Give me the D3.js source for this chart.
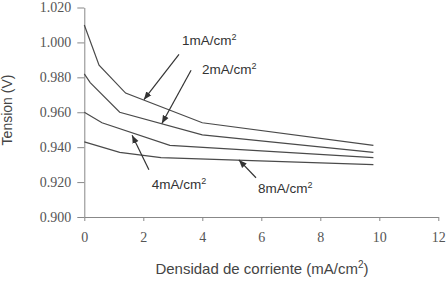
<!DOCTYPE html>
<html>
<head>
<meta charset="utf-8">
<script src="https://cdn.jsdelivr.net/npm/d3@7"></script>
<style>
  body { margin: 0; background: #fff; }
  .line { fill: none; stroke: #4a4a4a; stroke-width: 1.2px; }
  .domain, .tick line { stroke: #888; }
</style>
</head>
<body>
<script>
// Datos de las curvas (densidad de corriente vs tension)
var serie1X = [0, 0.5, 1.4, 4, 9.8];
var serie1Y = [1.010, 0.987, 0.971, 0.954, 0.941];
var serie2X = [0, 0.2, 1.2, 4, 9.8];
var serie2Y = [0.982, 0.977, 0.960, 0.947, 0.937];
var serie3X = [0, 0.6, 2.9, 9.8];
var serie3Y = [0.960, 0.954, 0.941, 0.934];
var serie4X = [0, 1.2, 2.6, 9.8];
var serie4Y = [0.943, 0.937, 0.934, 0.930];

var xTicks = [0, 2, 4, 6, 8, 10, 12];
var yTicks = [0.900, 0.920, 0.940, 0.960, 0.980, 1.000, 1.020];

// etiquetas con flecha: texto, posicion del texto, cola y punta de la flecha
var etiquetas = ["1mA/cm", "2mA/cm", "4mA/cm", "8mA/cm"];
var etiqX = [3.31, 3.99, 2.29, 5.89];
var etiqY = [0.9983, 0.9819, 0.9158, 0.9135];
var colaX = [3.21, 3.62, 2.19, 5.82];
var colaY = [0.9932, 0.9841, 0.9271, 0.9225];
var puntaX = [2.02, 2.63, 1.62, 5.24];
var puntaY = [0.9672, 0.9536, 0.9468, 0.9327];

var W = 447, H = 282;
var margin = {top: 7.5, right: 8.7, bottom: 65, left: 84.3};
var width = W - margin.left - margin.right;
var height = H - margin.top - margin.bottom;

var svg = d3.select("body").append("svg")
            .attr("width", W)
            .attr("height", H);

svg.append("defs").append("marker")
   .attr("id", "flecha")
   .attr("viewBox", "0 0 10 10")
   .attr("refX", 10).attr("refY", 5)
   .attr("markerWidth", 8).attr("markerHeight", 8)
   .attr("markerUnits", "userSpaceOnUse")
   .attr("orient", "auto")
   .append("path")
   .attr("d", "M0,1 L10,5 L0,9 Z")
   .attr("fill", "#333");

var g = svg.append("g")
           .attr("transform", "translate(" + margin.left + "," + margin.top + ")");

var x = d3.scaleLinear().domain([0, 12]).range([0, width]);
var y = d3.scaleLinear().domain([0.900, 1.020]).range([height, 0]);

var serif = "'Liberation Serif', 'DejaVu Serif', serif";

// Eje X
var ejeX = g.append("g")
 .attr("transform", "translate(0," + height + ")")
 .call(d3.axisBottom(x).tickValues(xTicks).tickSize(4).tickSizeOuter(0).tickPadding(11).tickFormat(d3.format("d")));

// Eje Y
var ejeY = g.append("g")
 .call(d3.axisLeft(y).tickValues(yTicks).tickSize(7).tickSizeOuter(0).tickPadding(6).tickFormat(d3.format(".3f")));

[ejeX, ejeY].forEach(function(e) {
  e.attr("font-family", null).attr("font-size", null);
  e.selectAll("text")
   .style("font-family", serif)
   .style("font-size", "14px")
   .style("fill", "#555");
});

// Curvas
var linea = d3.line()
              .x(function(d) { return x(d[0]); })
              .y(function(d) { return y(d[1]); });

var series = [[serie1X, serie1Y], [serie2X, serie2Y], [serie3X, serie3Y], [serie4X, serie4Y]];
series.forEach(function(s) {
  var pts = s[0].map(function(v, i) { return [v, s[1][i]]; });
  g.append("path").attr("class", "line").attr("d", linea(pts));
});

// Flechas y etiquetas
etiquetas.forEach(function(t, i) {
  g.append("line")
   .attr("x1", x(colaX[i])).attr("y1", y(colaY[i]))
   .attr("x2", x(puntaX[i])).attr("y2", y(puntaY[i]))
   .attr("stroke", "#333").attr("stroke-width", 1.2)
   .attr("marker-end", "url(#flecha)");
  var txt = g.append("text")
             .attr("x", x(etiqX[i])).attr("y", y(etiqY[i]))
             .style("font-family", "'Liberation Sans', Arial, sans-serif")
             .style("font-size", "13.5px")
             .style("fill", "#333")
             .text(t);
  txt.append("tspan").attr("dy", -5).style("font-size", "9px").text("2");
});

// Titulos de ejes
var xt = svg.append("text")
   .attr("x", 262).attr("y", 274)
   .attr("text-anchor", "middle")
   .style("font-family", "'Liberation Sans', Arial, sans-serif")
   .style("font-size", "15px")
   .style("fill", "#444")
   .text("Densidad de corriente (mA/cm");
xt.append("tspan").attr("dy", -6).style("font-size", "10px").text("2");
xt.append("tspan").attr("dy", 6).text(")");

svg.append("text")
   .attr("transform", "translate(12,110) rotate(-90)")
   .attr("text-anchor", "middle")
   .style("font-family", "'Liberation Sans', Arial, sans-serif")
   .style("font-size", "14px")
   .style("fill", "#444")
   .text("Tension (V)");
</script>
</body>
</html>
